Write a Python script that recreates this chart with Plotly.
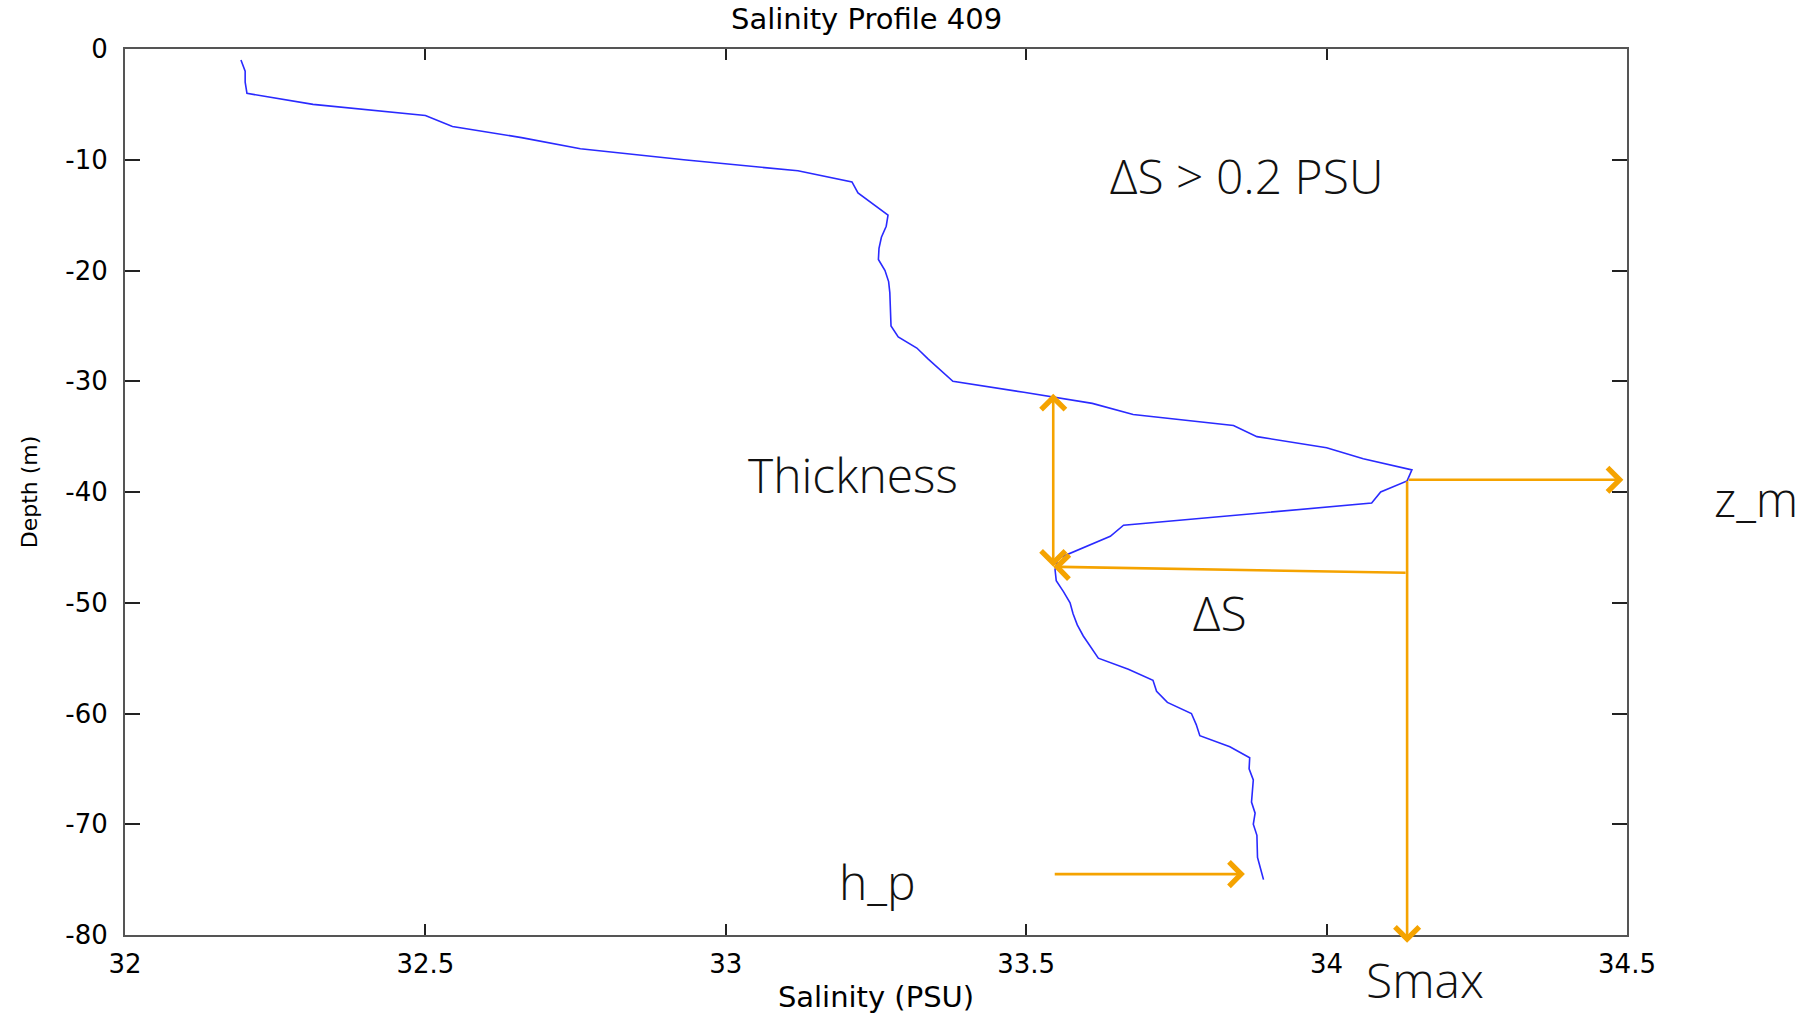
import plotly.graph_objects as go

# CTD salinity profile, station 409 (1 m bins)
depth = [-1, -2, -3, -4, -5, -6, -7, -8, -9, -10,
         -11, -12, -13, -14, -15, -16, -17, -18, -19, -20,
         -21, -22, -23, -24, -25, -26, -27, -28, -29, -30,
         -31, -32, -33, -34, -35, -36, -37, -38, -39, -40,
         -41, -42, -43, -44, -45, -46, -47, -48, -49, -50,
         -51, -52, -53, -54, -55, -56, -57, -58, -59, -60,
         -61, -62, -63, -64, -65, -66, -67, -68, -69, -70,
         -71, -72, -73, -74, -75]
salinity = [32.193, 32.200, 32.200, 32.203, 32.313, 32.500, 32.545, 32.660, 32.758, 32.930,
            33.120, 33.210, 33.220, 33.245, 33.270, 33.267, 33.259, 33.255, 33.254, 33.265,
            33.271, 33.273, 33.274, 33.275, 33.275, 33.287, 33.318, 33.337, 33.358, 33.378,
            33.496, 33.610, 33.678, 33.845, 33.884, 34.000, 34.061, 34.142, 34.134, 34.090,
            34.075, 33.875, 33.662, 33.640, 33.595, 33.553, 33.548, 33.550, 33.562, 33.573,
            33.578, 33.585, 33.595, 33.607, 33.620, 33.670, 33.711, 33.717, 33.735, 33.775,
            33.783, 33.789, 33.839, 33.872, 33.871, 33.878, 33.876, 33.875, 33.881, 33.878,
            33.884, 33.884, 33.885, 33.890, 33.895]

x_ticks = [32, 32.5, 33, 33.5, 34, 34.5]
x_tick_text = ["32", "32.5", "33", "33.5", "34", "34.5"]
y_ticks = [0, -10, -20, -30, -40, -50, -60, -70, -80]
y_tick_text = ["0", "-10", "-20", "-30", "-40", "-50", "-60", "-70", "-80"]

# Layer diagnostics
s_max = 34.134          # maximum salinity of the intrusion (PSU)
z_m = -38.9             # depth of the salinity maximum (m)
layer_top = -31.0       # top of the layer (m)
layer_bottom = -46.75   # bottom of the layer (m)
s_bottom = 33.545       # salinity at the layer bottom (PSU)
delta_s_depth = -47.3   # depth where the ΔS bracket leaves the Smax line
h_p = -74.5             # profile depth (m)
h_p_salinity = 33.864
x_min, x_max = 32, 34.5
y_min, y_max = -80, 0

ORANGE = "#F5A300"
AXIS_FONT = "DejaVu Sans"
NOTE_FONT = dict(family="Open Sans", size=48, color="#111111", weight=300)

fig = go.Figure()
fig.add_trace(go.Scatter(
    x=salinity, y=depth, mode="lines",
    line=dict(color="#2a2aff", width=1.6),
    showlegend=False, hoverinfo="skip",
))


def arrow(x, y, ax, ay, side="end"):
    fig.add_annotation(
        x=x, y=y, ax=ax, ay=ay, xref="x", yref="y", axref="x", ayref="y",
        text="", showarrow=True, arrowhead=4, startarrowhead=4,
        arrowside=side, arrowsize=1.8, startarrowsize=1.8,
        arrowwidth=2.6, arrowcolor=ORANGE, standoff=0, startstandoff=0,
    )


# thickness of the layer
arrow(s_bottom, layer_bottom, s_bottom, layer_top, side="end+start")
# ΔS bracket back to the layer bottom
arrow(s_bottom, layer_bottom, s_max, delta_s_depth)
# Smax drop line to the salinity axis
arrow(s_max, y_min - 0.7, s_max, z_m)
# z_m line to the depth axis
arrow(x_max - 0.006, z_m, s_max, z_m)
# h_p marker
arrow(h_p_salinity, h_p, s_bottom, h_p)

notes = [
    ("ΔS > 0.2 PSU", 33.866, -11.4, "x", "y"),
    ("Thickness", 33.212, -38.4, "x", "y"),
    ("ΔS", 33.823, -50.9, "x", "y"),
    ("h_p", 33.252, -75.2, "x", "y"),
]
for txt, xv, yv, xr, yr in notes:
    fig.add_annotation(x=xv, y=yv, xref=xr, yref=yr, text=txt, showarrow=False,
                       xanchor="center", yanchor="middle", font=NOTE_FONT)
fig.add_annotation(x=1.086, y=-40.6, xref="paper", yref="y", text="z_m",
                   showarrow=False, xanchor="center", yanchor="middle", font=NOTE_FONT)
fig.add_annotation(x=34.164, y=-0.050, xref="x", yref="paper", text="Smax",
                   showarrow=False, xanchor="center", yanchor="middle", font=NOTE_FONT)

fig.update_layout(
    width=1813, height=1014,
    paper_bgcolor="white", plot_bgcolor="white",
    margin=dict(l=125, r=186, t=49, b=79),
    title=dict(text="Salinity Profile 409", x=0.478, xanchor="center",
               y=0.981, yanchor="middle",
               font=dict(family=AXIS_FONT, size=29, color="black")),
    font=dict(family=AXIS_FONT, color="black"),
)
fig.update_xaxes(
    range=[x_min, x_max], tickvals=x_ticks, ticktext=x_tick_text,
    ticks="inside", ticklen=11, tickwidth=1.5, tickcolor="#222",
    showline=True, linecolor="#555", linewidth=2, mirror="allticks",
    showgrid=False, zeroline=False, ticklabelstandoff=5, automargin=False,
    tickfont=dict(family=AXIS_FONT, size=26, color="black"),
    title=dict(text="Salinity (PSU)", standoff=9,
               font=dict(family=AXIS_FONT, size=29, color="black")),
)
fig.update_yaxes(
    range=[y_min, y_max], tickvals=y_ticks, ticktext=y_tick_text,
    ticks="inside", ticklen=15, tickwidth=1.5, tickcolor="#222",
    showline=True, linecolor="#555", linewidth=2, mirror="allticks",
    showgrid=False, zeroline=False, ticklabelstandoff=10, automargin=False,
    tickfont=dict(family=AXIS_FONT, size=26, color="black"),
    title=dict(text="Depth (m)", standoff=22,
               font=dict(family=AXIS_FONT, size=22, color="black")),
)

fig.write_html("out.html")
